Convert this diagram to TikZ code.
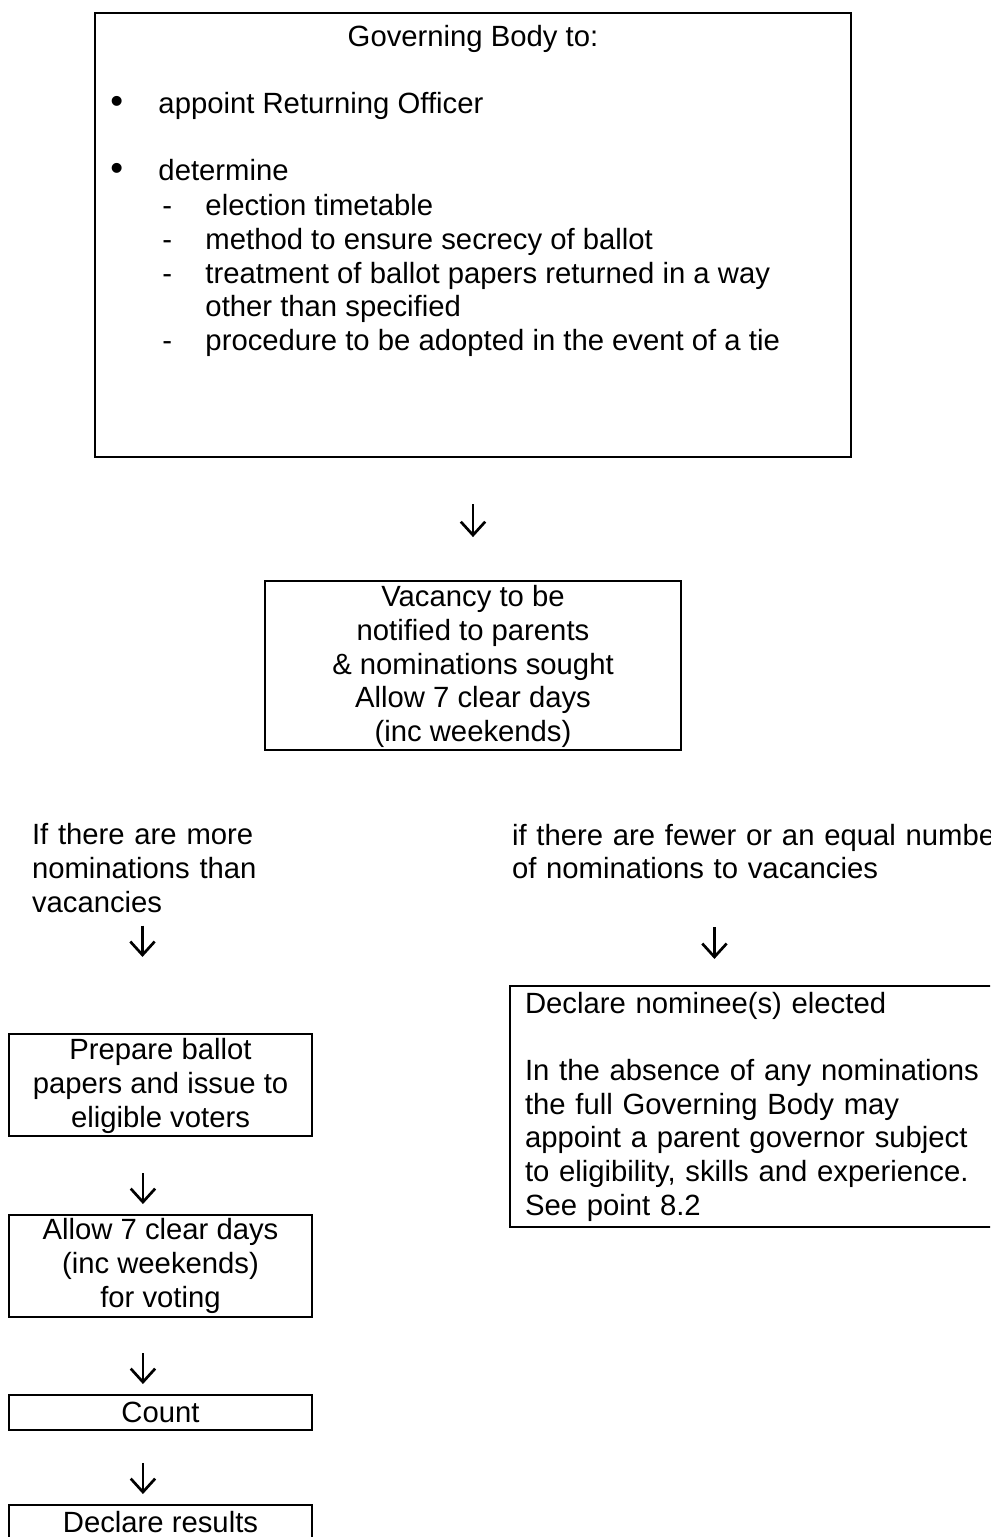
\documentclass[tikz,border=0pt]{standalone}
\usepackage{fontspec}
\setmainfont{Liberation Sans}
\usetikzlibrary{arrows.meta}

\tikzset{
  box/.style={draw, line width=0.8pt, inner sep=0pt, align=center},
  txt/.style={anchor=base west, inner sep=0pt},
  arr/.style={line width=1.1pt, -{Straight Barb[length=5.5pt, width=10pt]}}
}

\begin{document}
\begin{tikzpicture}[x=0.41pt, y=-0.41pt, font=\fontsize{12}{13.8}\selectfont]
% Set the size of the figure
\useasboundingbox (0,0) rectangle (990,1537);
\clip (0,0) rectangle (990,1537);

% Governing Body box
\node[box, minimum width=309.96pt, minimum height=182.04pt] (gov) at (473,235) {};
\node[txt, anchor=base] (title) at (473,47) {Governing Body to:};
\node[txt] (b1) at (110,114) {\fontsize{15}{15}\selectfont •};
\node[txt] (appoint) at (158,114) {appoint Returning Officer};
\node[txt] (b2) at (110,181) {\fontsize{15}{15}\selectfont •};
\node[txt] (determine) at (158,181) {determine};
\node[txt] (d1) at (162,215) {-};
\node[txt] (timetable) at (205,215) {election timetable};
\node[txt] (d2) at (162,249) {-};
\node[txt] (secrecy) at (205,249) {method to ensure secrecy of ballot};
\node[txt] (d3) at (162,283) {-};
\node[txt] (returned) at (205,283) {treatment of ballot papers returned in a way};
\node[txt] (specified) at (205,316) {other than specified};
\node[txt] (d4) at (162,350) {-};
\node[txt] (tie) at (205,350) {procedure to be adopted in the event of a tie};

% Vacancy box
\node[box, minimum width=170.56pt, minimum height=69.29pt] (vac) at (473,665.5)
  {\rule{0pt}{9.5pt}Vacancy to be\\notified to parents\\\& nominations sought\\Allow 7 clear days\\(inc weekends)};

% The two cases
\node[align=left, inner sep=0pt, text width=98.4pt, minimum height=41.4pt] (more) at (152,868)
  {If there are more\\nominations than\\vacancies};
\node[align=left, inner sep=0pt, text width=205pt, minimum height=27.5pt] (fewer) at (762,851.5)
  {if there are fewer or an equal number\\of nominations to vacancies};

% Left column
\node[box, minimum width=124.23pt, minimum height=41.82pt] (prep) at (160.5,1085)
  {\rule{0pt}{9.5pt}Prepare ballot\\papers and issue to\\eligible voters};
\node[box, minimum width=124.23pt, minimum height=41.82pt] (allow) at (160.5,1266)
  {Allow 7 clear days\\(inc weekends)\\for voting};
\node[box, minimum width=124.23pt, minimum height=14.35pt] (count) at (160.5,1412.5) {Count};
\node[box, minimum width=124.23pt, minimum height=14.35pt] (results) at (160.5,1522.5) {Declare results};

% Right column
\node[box, align=left, inner xsep=6.15pt, text width=188.6pt, minimum height=98.8pt] (decl) at (755,1106.5)
  {Declare nominee(s) elected\\[13.8pt]In the absence of any nominations\\the full Governing Body may\\appoint a parent governor subject\\to eligibility, skills and experience.\\See point 8.2};

% Arrows
\coordinate (ma) at ([xshift=45.5pt]more.south west);
\coordinate (fa) at ([xshift=83.2pt]fewer.south west);
\draw[arr, shorten <=18.9pt, shorten >=17.6pt] (gov.south) -- (vac.north);
\draw[arr, shorten <=2.7pt, shorten >=31.2pt] (ma) -- (ma |- prep.north);
\draw[arr, shorten <=17.2pt, shorten >=10.7pt] (fa) -- (fa |- decl.north);
\draw[arr, shorten <=14.8pt, shorten >=4.1pt] ([xshift=-7.2pt]prep.south) -- ([xshift=-7.2pt]allow.north);
\draw[arr, shorten <=14.4pt, shorten >=4.1pt] ([xshift=-7.2pt]allow.south) -- ([xshift=-7.2pt]count.north);
\draw[arr, shorten <=13.1pt, shorten >=4.1pt] ([xshift=-7.2pt]count.south) -- ([xshift=-7.2pt]results.north);
\end{tikzpicture}
\end{document}
